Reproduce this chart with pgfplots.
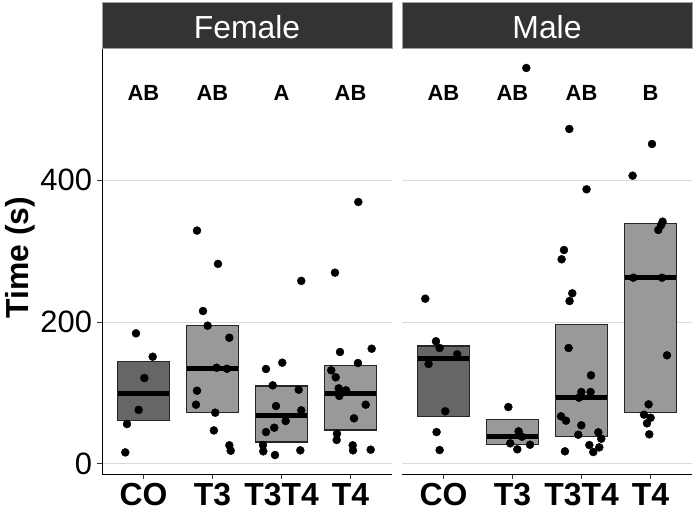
\documentclass[border=0pt]{standalone}
\usepackage{fontspec}
\setmainfont{Liberation Sans}
\usepackage{pgfplots}
\usepackage{pgfplotstable}
\pgfplotsset{compat=1.18}
\definecolor{stripc}{HTML}{333333}
\definecolor{boxdark}{HTML}{666666}
\definecolor{boxlight}{HTML}{999999}
\definecolor{gridc}{HTML}{DBDBDB}

\pgfplotstableread{
x y
0.892 184
1.134 151
1.013 121
0.931 76
0.762 56
0.737 16
1.776 329
2.08 282
1.863 215.5
1.93 194.8
2.244 177.8
2.06 135.5
2.21 134
1.776 103
1.761 83.3
2.04 72
2.02 47
2.244 26
2.264 18.4
3.286 258
3.011 142.6
2.775 133.7
2.872 110.6
3.249 104.4
2.92 81.4
3.286 75.3
3.06 60.3
2.895 50.8
2.775 44.7
2.732 26.4
2.736 17.5
2.905 12.3
3.272 18.9
4.112 369.4
3.774 269.6
4.306 162.3
3.847 157.7
4.107 142.1
3.72 131.8
3.785 121.9
3.828 106.4
3.934 103.6
3.837 95.6
4.219 83.3
4.05 64.1
3.803 42.3
3.799 33.5
4.031 26
4.035 18.9
4.291 19.8
}\femalepts

\pgfplotstableread{
x y
0.737 232.9
0.892 172.8
0.945 163.3
1.2 154.4
0.785 140.7
1.027 74
0.901 44.7
0.945 19.3
2.2 558.5
1.94 80
2.089 45.7
2.138 38.1
1.968 28.8
2.254 26.8
2.07 20.3
2.823 472.4
3.073 387.3
2.746 301.6
2.712 288.5
2.866 240.5
2.827 229.6
2.813 163.3
3.137 124.8
2.997 101.2
3.131 101.2
2.963 93.2
2.703 66.9
2.775 60.7
2.997 54.2
2.953 40.9
3.243 44.3
3.286 35.3
3.113 26.4
3.257 23.1
3.17 16.5
2.76 17.5
4.021 451.2
3.74 406.5
4.174 341.6
4.151 336.5
4.112 329.9
3.75 262.5
4.165 262.5
4.238 153
3.971 83.8
3.905 69.2
4.0 64.9
3.948 57
3.981 41.5
}\malepts

\pgfplotsset{panel/.style={
  scale only axis, width=290bp, height=426bp,
  xmin=0.4, xmax=4.6, ymin=-14.5, ymax=586.7,
  axis x line*=bottom, axis y line*=left,
  xtick={1,2,3,4}, xticklabels={CO,T3,T3T4,T4},
  ytick={0,200,400},
  ymajorgrids, grid style={gridc, line width=1bp},
  tick align=outside, major tick length=4.5bp,
  tick style={black!80, line width=0.9bp},
  axis line style={black, line width=1bp},
  x tick label style={font=\fontsize{32}{32}\selectfont\bfseries, yshift=-1.5bp},
  y tick label style={font=\fontsize{31}{31}\selectfont, xshift=-2bp},
  /pgf/number format/assume math mode=true,
  clip=false,
  boxst/.style={draw=black!85, line width=1.1bp},
  medst/.style={black, line width=5bp, forget plot},
  ptst/.style={only marks, mark=*, mark size=4bp, black},
}}

\begin{document}
\begin{tikzpicture}
\path[use as bounding box] (0,0) rectangle (694bp,512bp);

\begin{axis}[panel, at={(102bp,38bp)}, anchor=south west]
\addplot[boxst, fill=boxdark] coordinates {(0.625,60.7) (1.375,60.7) (1.375,144.5) (0.625,144.5)} -- cycle;
\addplot[medst] coordinates {(0.625,98.4) (1.375,98.4)};
\addplot[boxst, fill=boxlight] coordinates {(1.625,72) (2.375,72) (2.375,194.8) (1.625,194.8)} -- cycle;
\addplot[medst] coordinates {(1.625,134) (2.375,134)};
\addplot[boxst, fill=boxlight] coordinates {(2.625,30.6) (3.375,30.6) (3.375,109.7) (2.625,109.7)} -- cycle;
\addplot[medst] coordinates {(2.625,67.8) (3.375,67.8)};
\addplot[boxst, fill=boxlight] coordinates {(3.625,47.6) (4.375,47.6) (4.375,138.9) (3.625,138.9)} -- cycle;
\addplot[medst] coordinates {(3.625,98.4) (4.375,98.4)};
\addplot[ptst] table[x=x,y=y] {\femalepts};
\node[anchor=base, font=\fontsize{22}{22}\selectfont\bfseries] at (axis cs:1,513) {AB};
\node[anchor=base, font=\fontsize{22}{22}\selectfont\bfseries] at (axis cs:2,513) {AB};
\node[anchor=base, font=\fontsize{22}{22}\selectfont\bfseries] at (axis cs:3,513) {A};
\node[anchor=base, font=\fontsize{22}{22}\selectfont\bfseries] at (axis cs:4,513) {AB};
\end{axis}

\begin{axis}[panel, at={(402bp,38bp)}, anchor=south west,
  y axis line style={draw=none}, ytick style={draw=none}, yticklabels={}]
\addplot[boxst, fill=boxdark] coordinates {(0.625,66.9) (1.375,66.9) (1.375,166.1) (0.625,166.1)} -- cycle;
\addplot[medst] coordinates {(0.625,147.8) (1.375,147.8)};
\addplot[boxst, fill=boxlight] coordinates {(1.625,27.4) (2.375,27.4) (2.375,62.7) (1.625,62.7)} -- cycle;
\addplot[medst] coordinates {(1.625,38.7) (2.375,38.7)};
\addplot[boxst, fill=boxlight] coordinates {(2.625,38.7) (3.375,38.7) (3.375,196.8) (2.625,196.8)} -- cycle;
\addplot[medst] coordinates {(2.625,93.2) (3.375,93.2)};
\addplot[boxst, fill=boxlight] coordinates {(3.625,72.5) (4.375,72.5) (4.375,338.7) (3.625,338.7)} -- cycle;
\addplot[medst] coordinates {(3.625,262.5) (4.375,262.5)};
\addplot[ptst] table[x=x,y=y] {\malepts};
\node[anchor=base, font=\fontsize{22}{22}\selectfont\bfseries] at (axis cs:1,513) {AB};
\node[anchor=base, font=\fontsize{22}{22}\selectfont\bfseries] at (axis cs:2,513) {AB};
\node[anchor=base, font=\fontsize{22}{22}\selectfont\bfseries] at (axis cs:3,513) {AB};
\node[anchor=base, font=\fontsize{22}{22}\selectfont\bfseries] at (axis cs:4,513) {B};
\end{axis}

\filldraw[fill=stripc, draw=gray!75, line width=0.8bp] (102bp,464bp) rectangle (392bp,509.3bp);
\node[anchor=base, white, font=\fontsize{32}{32}\selectfont] at (247bp,473.7bp) {Female};
\filldraw[fill=stripc, draw=gray!75, line width=0.8bp] (402bp,464bp) rectangle (692bp,509.3bp);
\node[anchor=base, white, font=\fontsize{32}{32}\selectfont] at (547bp,473.7bp) {Male};
\node[rotate=90, anchor=base, font=\fontsize{32}{32}\selectfont\bfseries] at (28.3bp,254.5bp) {Time (s)};
\end{tikzpicture}
\end{document}
